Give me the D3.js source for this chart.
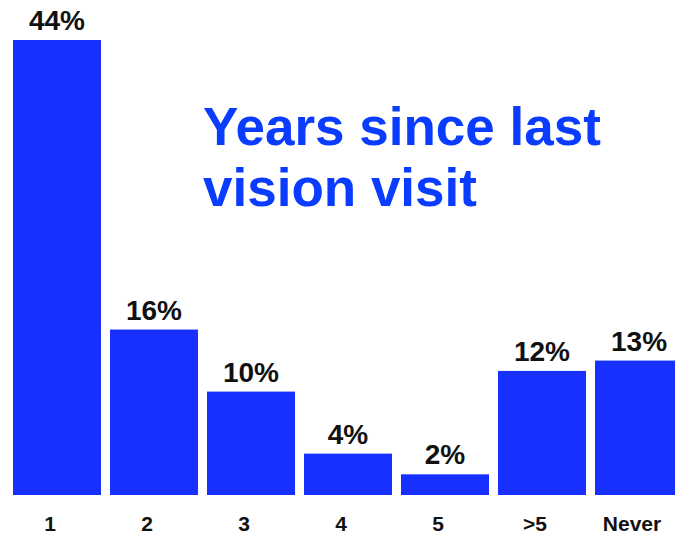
<!DOCTYPE html>
<html>
<head>
<meta charset="utf-8">
<script src="https://cdn.jsdelivr.net/npm/d3@7"></script>
<style>
  html, body { margin: 0; padding: 0; background: #fff; }
  svg { display: block; }
  text { font-family: "Liberation Sans", Arial, Helvetica, sans-serif; font-weight: bold; }
</style>
</head>
<body>
<svg id="chart" width="675" height="537"></svg>
<script>
const categories = ["1", "2", "3", "4", "5", ">5", "Never"];
const values = [44, 16, 10, 4, 2, 12, 13];
const valueLabels = ["44%", "16%", "10%", "4%", "2%", "12%", "13%"];
const titleLines = ["Years since last", "vision visit"];

const svg = d3.select("#chart");

const x = d3.scaleBand().domain(categories).range([13, 683]).paddingInner(0.093).paddingOuter(0);
const y = d3.scaleLinear().domain([0, 44]).range([495, 40]);

const barColor = "#1730ff";

svg.selectAll("rect.bar")
  .data(categories)
  .join("rect")
  .attr("class", "bar")
  .attr("x", d => x(d))
  .attr("y", (d, i) => y(values[i]))
  .attr("width", x.bandwidth())
  .attr("height", (d, i) => y(0) - y(values[i]))
  .attr("fill", barColor);

svg.selectAll("text.val")
  .data(categories)
  .join("text")
  .attr("class", "val")
  .attr("x", d => x(d) + x.bandwidth() / 2)
  .attr("y", (d, i) => y(values[i]) - 10)
  .attr("text-anchor", "middle")
  .attr("font-size", 28)
  .attr("fill", "#111")
  .text((d, i) => valueLabels[i]);

// category axis
const xAxis = d3.axisBottom(x).tickSize(0).tickPadding(0);
const gx = svg.append("g").attr("transform", "translate(0,531)").call(xAxis);
gx.select(".domain").remove();
gx.selectAll(".tick text")
  .attr("dy", 0)
  .attr("dx", -7)
  .attr("font-size", 21)
  .attr("font-family", "'Liberation Sans', Arial, Helvetica, sans-serif")
  .attr("font-weight", "bold")
  .attr("fill", "#111");

// title
svg.selectAll("text.title")
  .data(titleLines)
  .join("text")
  .attr("class", "title")
  .attr("x", 203)
  .attr("y", (d, i) => 145 + i * 61)
  .attr("font-size", 53)
  .attr("fill", "#0a3cff")
  .text(d => d);
</script>
</body>
</html>
